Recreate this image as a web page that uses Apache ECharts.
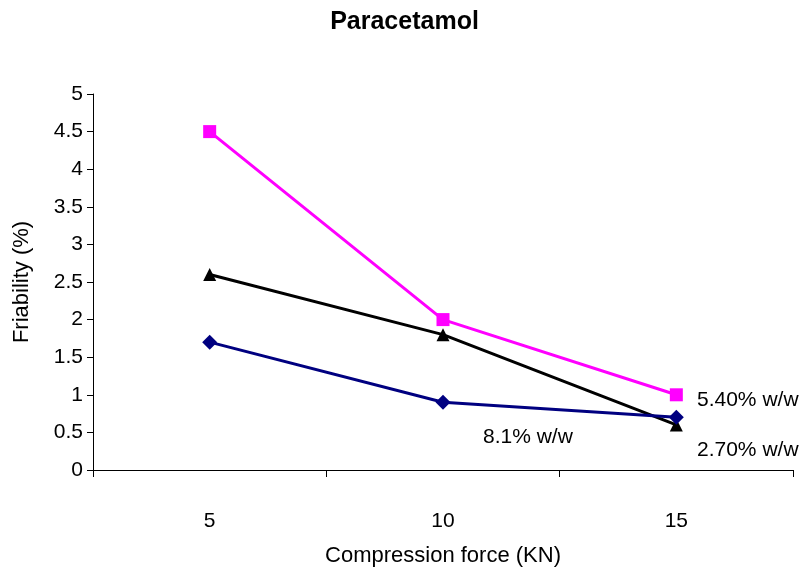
<!DOCTYPE html>
<html>
<head>
<meta charset="utf-8">
<script src="https://cdn.jsdelivr.net/npm/echarts@6/dist/echarts.min.js"></script>
<style>html,body{margin:0;padding:0;background:#fff}#c{width:809px;height:578px}</style>
</head>
<body>
<div id="c"></div>
<script>
const categories = ['5', '10', '15'];
const seriesNames = ['8.1% w/w', '5.40% w/w', '2.70% w/w'];
const navyValues = [1.7, 0.9, 0.7];
const pinkValues = [4.5, 2.0, 1.0];
const blackValues = [2.6, 1.8, 0.6];
const yTicks = [0, 0.5, 1, 1.5, 2, 2.5, 3, 3.5, 4, 4.5, 5];

const font = 'Liberation Sans, Arial, sans-serif';
const chart = echarts.init(document.getElementById('c'), null, {renderer: 'canvas'});
chart.setOption({
  animation: false,
  backgroundColor: '#fff',
  title: {
    text: 'Paracetamol', left: 'center', top: 5,
    textStyle: {fontFamily: font, fontSize: 25, fontWeight: 'bold', color: '#000'}
  },
  grid: {left: 93, right: 16, top: 94, bottom: 108, containLabel: false},
  xAxis: {
    type: 'category', data: categories, boundaryGap: true,
    name: 'Compression force (KN)', nameLocation: 'middle', nameGap: 75,
    nameTextStyle: {fontFamily: font, fontSize: 22, color: '#000'},
    axisLine: {lineStyle: {color: '#000', width: 1}},
    axisTick: {show: true, length: 7, lineStyle: {color: '#000'}},
    axisLabel: {fontFamily: font, fontSize: 21, color: '#000', margin: 41},
    splitLine: {show: false}
  },
  yAxis: {
    type: 'value', min: 0, max: 5, interval: 0.5,
    name: 'Friability (%)', nameLocation: 'middle', nameGap: 60,
    nameTextStyle: {fontFamily: font, fontSize: 22, color: '#000'},
    axisLine: {show: true, lineStyle: {color: '#000', width: 1}},
    axisTick: {show: true, length: 6, lineStyle: {color: '#000'}},
    axisLabel: {fontFamily: font, fontSize: 21, color: '#000', margin: 10,
      formatter: v => String(yTicks.find(t => Math.abs(t - v) < 1e-9) ?? v)},
    splitLine: {show: false}
  },
  series: [
    {
      name: seriesNames[2], type: 'line', data: blackValues,
      symbol: 'triangle', symbolSize: 13,
      lineStyle: {color: '#000', width: 3}, itemStyle: {color: '#000'}
    },
    {
      name: seriesNames[1], type: 'line', data: pinkValues,
      symbol: 'rect', symbolSize: 13,
      lineStyle: {color: '#FF00FF', width: 3}, itemStyle: {color: '#FF00FF'}
    },
    {
      name: seriesNames[0], type: 'line', data: navyValues,
      symbol: 'diamond', symbolSize: 15,
      lineStyle: {color: '#000080', width: 3}, itemStyle: {color: '#000080'}
    }
  ],
  graphic: [
    {type: 'text', left: 697, top: 390, style: {text: seriesNames[1], font: '21px ' + font, fill: '#000'}},
    {type: 'text', left: 483, top: 427, style: {text: seriesNames[0], font: '21px ' + font, fill: '#000'}},
    {type: 'text', left: 697, top: 440, style: {text: seriesNames[2], font: '21px ' + font, fill: '#000'}}
  ]
});
</script>
</body>
</html>
